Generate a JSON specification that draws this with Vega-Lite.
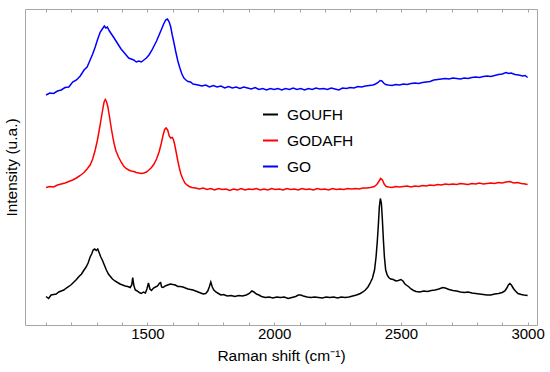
{
 "$schema": "https://vega.github.io/schema/vega-lite/v6.json",
 "width": 512,
 "height": 316,
 "autosize": {"type": "none"},
 "padding": {"left": 25, "top": 9, "right": 13, "bottom": 47},
 "background": "white",
 "config": {"view": {"stroke": "#a6a6a6", "strokeWidth": 1}, "font": "Liberation Sans"},
 "datasets": {
  "spec": [
{"s":"GO","x":1100,"y":230},{"s":"GO","x":1115,"y":232},{"s":"GO","x":1130,"y":231.5},{"s":"GO","x":1145,"y":234},{"s":"GO","x":1160,"y":235},{"s":"GO","x":1175,"y":237.5},{"s":"GO","x":1190,"y":238},{"s":"GO","x":1205,"y":243},{"s":"GO","x":1220,"y":245},{"s":"GO","x":1235,"y":249},{"s":"GO","x":1250,"y":255},{"s":"GO","x":1262,"y":258},{"s":"GO","x":1274,"y":265},{"s":"GO","x":1284,"y":271},{"s":"GO","x":1294,"y":278},{"s":"GO","x":1304,"y":286},{"s":"GO","x":1314,"y":293},{"s":"GO","x":1322,"y":296},{"s":"GO","x":1330,"y":299},{"s":"GO","x":1336,"y":297},{"s":"GO","x":1342,"y":298},{"s":"GO","x":1350,"y":294},{"s":"GO","x":1358,"y":291},{"s":"GO","x":1366,"y":288},{"s":"GO","x":1376,"y":284},{"s":"GO","x":1386,"y":280},{"s":"GO","x":1396,"y":276},{"s":"GO","x":1406,"y":273},{"s":"GO","x":1416,"y":270},{"s":"GO","x":1426,"y":267},{"s":"GO","x":1436,"y":266},{"s":"GO","x":1446,"y":265},{"s":"GO","x":1456,"y":263},{"s":"GO","x":1466,"y":264},{"s":"GO","x":1476,"y":263},{"s":"GO","x":1486,"y":265},{"s":"GO","x":1496,"y":267},{"s":"GO","x":1506,"y":270},{"s":"GO","x":1516,"y":274},{"s":"GO","x":1526,"y":279},{"s":"GO","x":1536,"y":284},{"s":"GO","x":1546,"y":290},{"s":"GO","x":1556,"y":296},{"s":"GO","x":1564,"y":301},{"s":"GO","x":1572,"y":305},{"s":"GO","x":1579,"y":306},{"s":"GO","x":1586,"y":303},{"s":"GO","x":1592,"y":298},{"s":"GO","x":1598,"y":290},{"s":"GO","x":1604,"y":283},{"s":"GO","x":1612,"y":273},{"s":"GO","x":1620,"y":264},{"s":"GO","x":1628,"y":257},{"s":"GO","x":1636,"y":251},{"s":"GO","x":1644,"y":247},{"s":"GO","x":1652,"y":245},{"s":"GO","x":1660,"y":243.5},{"s":"GO","x":1670,"y":243},{"s":"GO","x":1680,"y":241},{"s":"GO","x":1690,"y":240.5},{"s":"GO","x":1700,"y":240},{"s":"GO","x":1715,"y":239},{"s":"GO","x":1730,"y":240},{"s":"GO","x":1745,"y":238},{"s":"GO","x":1760,"y":239.5},{"s":"GO","x":1775,"y":238},{"s":"GO","x":1790,"y":239},{"s":"GO","x":1805,"y":237},{"s":"GO","x":1820,"y":238.5},{"s":"GO","x":1835,"y":237},{"s":"GO","x":1850,"y":238},{"s":"GO","x":1865,"y":236.5},{"s":"GO","x":1880,"y":238},{"s":"GO","x":1895,"y":237},{"s":"GO","x":1910,"y":236},{"s":"GO","x":1925,"y":237.5},{"s":"GO","x":1940,"y":235.5},{"s":"GO","x":1955,"y":236.5},{"s":"GO","x":1970,"y":235},{"s":"GO","x":1985,"y":236.5},{"s":"GO","x":2000,"y":235.5},{"s":"GO","x":2015,"y":236.5},{"s":"GO","x":2030,"y":235},{"s":"GO","x":2045,"y":236.5},{"s":"GO","x":2060,"y":235.5},{"s":"GO","x":2075,"y":237},{"s":"GO","x":2090,"y":235.5},{"s":"GO","x":2105,"y":236.5},{"s":"GO","x":2120,"y":235},{"s":"GO","x":2135,"y":236.5},{"s":"GO","x":2150,"y":235.5},{"s":"GO","x":2165,"y":237},{"s":"GO","x":2180,"y":236},{"s":"GO","x":2195,"y":236.5},{"s":"GO","x":2210,"y":235.5},{"s":"GO","x":2225,"y":237},{"s":"GO","x":2240,"y":236},{"s":"GO","x":2255,"y":235},{"s":"GO","x":2270,"y":237},{"s":"GO","x":2285,"y":236.5},{"s":"GO","x":2300,"y":237.5},{"s":"GO","x":2315,"y":237},{"s":"GO","x":2330,"y":238.5},{"s":"GO","x":2345,"y":238},{"s":"GO","x":2360,"y":239},{"s":"GO","x":2375,"y":239.5},{"s":"GO","x":2390,"y":240},{"s":"GO","x":2400,"y":241},{"s":"GO","x":2410,"y":242.5},{"s":"GO","x":2418,"y":244.5},{"s":"GO","x":2425,"y":244},{"s":"GO","x":2432,"y":242},{"s":"GO","x":2440,"y":240.5},{"s":"GO","x":2450,"y":240},{"s":"GO","x":2465,"y":239.5},{"s":"GO","x":2480,"y":240.5},{"s":"GO","x":2495,"y":240},{"s":"GO","x":2510,"y":241},{"s":"GO","x":2525,"y":240.5},{"s":"GO","x":2540,"y":241.5},{"s":"GO","x":2555,"y":242},{"s":"GO","x":2570,"y":241.5},{"s":"GO","x":2585,"y":242.5},{"s":"GO","x":2600,"y":243},{"s":"GO","x":2615,"y":243.5},{"s":"GO","x":2630,"y":245},{"s":"GO","x":2645,"y":245.5},{"s":"GO","x":2660,"y":246},{"s":"GO","x":2675,"y":246.5},{"s":"GO","x":2690,"y":246},{"s":"GO","x":2705,"y":247},{"s":"GO","x":2720,"y":246.5},{"s":"GO","x":2735,"y":246},{"s":"GO","x":2750,"y":247},{"s":"GO","x":2765,"y":246.5},{"s":"GO","x":2780,"y":247.5},{"s":"GO","x":2795,"y":248},{"s":"GO","x":2810,"y":247.5},{"s":"GO","x":2825,"y":248.5},{"s":"GO","x":2840,"y":249},{"s":"GO","x":2855,"y":248.5},{"s":"GO","x":2870,"y":249.5},{"s":"GO","x":2885,"y":250.5},{"s":"GO","x":2900,"y":251},{"s":"GO","x":2915,"y":252.5},{"s":"GO","x":2925,"y":251.5},{"s":"GO","x":2935,"y":252},{"s":"GO","x":2950,"y":250.5},{"s":"GO","x":2965,"y":250},{"s":"GO","x":2980,"y":249},{"s":"GO","x":2990,"y":249.5},{"s":"GO","x":3000,"y":247.5},
{"s":"GODAFH","x":1100,"y":137.5},{"s":"GODAFH","x":1115,"y":138.5},{"s":"GODAFH","x":1130,"y":138},{"s":"GODAFH","x":1145,"y":140},{"s":"GODAFH","x":1160,"y":141},{"s":"GODAFH","x":1175,"y":142},{"s":"GODAFH","x":1190,"y":143.5},{"s":"GODAFH","x":1205,"y":145},{"s":"GODAFH","x":1220,"y":147},{"s":"GODAFH","x":1235,"y":149.5},{"s":"GODAFH","x":1250,"y":152.5},{"s":"GODAFH","x":1262,"y":156},{"s":"GODAFH","x":1274,"y":160},{"s":"GODAFH","x":1284,"y":166},{"s":"GODAFH","x":1294,"y":175},{"s":"GODAFH","x":1302,"y":184},{"s":"GODAFH","x":1310,"y":195},{"s":"GODAFH","x":1318,"y":207},{"s":"GODAFH","x":1324,"y":216},{"s":"GODAFH","x":1329,"y":223},{"s":"GODAFH","x":1334,"y":225.5},{"s":"GODAFH","x":1339,"y":223},{"s":"GODAFH","x":1344,"y":218},{"s":"GODAFH","x":1350,"y":209},{"s":"GODAFH","x":1356,"y":199},{"s":"GODAFH","x":1362,"y":190},{"s":"GODAFH","x":1368,"y":182},{"s":"GODAFH","x":1376,"y":174},{"s":"GODAFH","x":1386,"y":168},{"s":"GODAFH","x":1396,"y":163},{"s":"GODAFH","x":1406,"y":159},{"s":"GODAFH","x":1416,"y":156.5},{"s":"GODAFH","x":1426,"y":155},{"s":"GODAFH","x":1436,"y":154},{"s":"GODAFH","x":1446,"y":153.5},{"s":"GODAFH","x":1456,"y":152.5},{"s":"GODAFH","x":1466,"y":152},{"s":"GODAFH","x":1476,"y":151.5},{"s":"GODAFH","x":1486,"y":152},{"s":"GODAFH","x":1496,"y":153},{"s":"GODAFH","x":1506,"y":155},{"s":"GODAFH","x":1516,"y":157.5},{"s":"GODAFH","x":1526,"y":161},{"s":"GODAFH","x":1536,"y":166},{"s":"GODAFH","x":1546,"y":173},{"s":"GODAFH","x":1554,"y":181},{"s":"GODAFH","x":1562,"y":190},{"s":"GODAFH","x":1568,"y":195.5},{"s":"GODAFH","x":1574,"y":197},{"s":"GODAFH","x":1580,"y":195},{"s":"GODAFH","x":1586,"y":189},{"s":"GODAFH","x":1592,"y":187},{"s":"GODAFH","x":1598,"y":187.5},{"s":"GODAFH","x":1603,"y":185},{"s":"GODAFH","x":1608,"y":180},{"s":"GODAFH","x":1614,"y":172},{"s":"GODAFH","x":1620,"y":164},{"s":"GODAFH","x":1626,"y":157},{"s":"GODAFH","x":1632,"y":151},{"s":"GODAFH","x":1640,"y":146},{"s":"GODAFH","x":1648,"y":142},{"s":"GODAFH","x":1656,"y":140},{"s":"GODAFH","x":1665,"y":138.5},{"s":"GODAFH","x":1675,"y":137.5},{"s":"GODAFH","x":1690,"y":137},{"s":"GODAFH","x":1705,"y":136},{"s":"GODAFH","x":1720,"y":137},{"s":"GODAFH","x":1735,"y":135.5},{"s":"GODAFH","x":1750,"y":136.5},{"s":"GODAFH","x":1765,"y":135},{"s":"GODAFH","x":1780,"y":136.5},{"s":"GODAFH","x":1795,"y":135.5},{"s":"GODAFH","x":1810,"y":136},{"s":"GODAFH","x":1825,"y":134.5},{"s":"GODAFH","x":1840,"y":136},{"s":"GODAFH","x":1855,"y":135},{"s":"GODAFH","x":1870,"y":136.5},{"s":"GODAFH","x":1885,"y":135},{"s":"GODAFH","x":1900,"y":136},{"s":"GODAFH","x":1915,"y":135.5},{"s":"GODAFH","x":1930,"y":136.5},{"s":"GODAFH","x":1945,"y":135},{"s":"GODAFH","x":1960,"y":136},{"s":"GODAFH","x":1975,"y":135},{"s":"GODAFH","x":1990,"y":136.5},{"s":"GODAFH","x":2005,"y":135.5},{"s":"GODAFH","x":2020,"y":136},{"s":"GODAFH","x":2035,"y":135},{"s":"GODAFH","x":2050,"y":136.5},{"s":"GODAFH","x":2065,"y":135.5},{"s":"GODAFH","x":2080,"y":136},{"s":"GODAFH","x":2095,"y":135},{"s":"GODAFH","x":2110,"y":136.5},{"s":"GODAFH","x":2125,"y":135.5},{"s":"GODAFH","x":2140,"y":136},{"s":"GODAFH","x":2155,"y":135},{"s":"GODAFH","x":2170,"y":136.5},{"s":"GODAFH","x":2185,"y":135.5},{"s":"GODAFH","x":2200,"y":136},{"s":"GODAFH","x":2215,"y":135},{"s":"GODAFH","x":2230,"y":136.5},{"s":"GODAFH","x":2245,"y":135.5},{"s":"GODAFH","x":2260,"y":136},{"s":"GODAFH","x":2275,"y":135.5},{"s":"GODAFH","x":2290,"y":136.5},{"s":"GODAFH","x":2305,"y":136},{"s":"GODAFH","x":2320,"y":136.5},{"s":"GODAFH","x":2335,"y":136},{"s":"GODAFH","x":2350,"y":137},{"s":"GODAFH","x":2365,"y":137},{"s":"GODAFH","x":2380,"y":137.5},{"s":"GODAFH","x":2395,"y":138.5},{"s":"GODAFH","x":2405,"y":140.5},{"s":"GODAFH","x":2413,"y":143.5},{"s":"GODAFH","x":2420,"y":146.5},{"s":"GODAFH","x":2427,"y":145},{"s":"GODAFH","x":2434,"y":141},{"s":"GODAFH","x":2442,"y":138.5},{"s":"GODAFH","x":2452,"y":138},{"s":"GODAFH","x":2465,"y":137.5},{"s":"GODAFH","x":2480,"y":138.5},{"s":"GODAFH","x":2495,"y":138},{"s":"GODAFH","x":2510,"y":138.5},{"s":"GODAFH","x":2525,"y":139},{"s":"GODAFH","x":2540,"y":138},{"s":"GODAFH","x":2555,"y":139},{"s":"GODAFH","x":2570,"y":138.5},{"s":"GODAFH","x":2585,"y":139.5},{"s":"GODAFH","x":2600,"y":139},{"s":"GODAFH","x":2615,"y":140},{"s":"GODAFH","x":2630,"y":139.5},{"s":"GODAFH","x":2645,"y":140.5},{"s":"GODAFH","x":2660,"y":140},{"s":"GODAFH","x":2675,"y":141},{"s":"GODAFH","x":2690,"y":140.5},{"s":"GODAFH","x":2705,"y":141},{"s":"GODAFH","x":2720,"y":140.5},{"s":"GODAFH","x":2735,"y":141.5},{"s":"GODAFH","x":2750,"y":141},{"s":"GODAFH","x":2765,"y":140.5},{"s":"GODAFH","x":2780,"y":141.5},{"s":"GODAFH","x":2795,"y":141},{"s":"GODAFH","x":2810,"y":142},{"s":"GODAFH","x":2825,"y":141},{"s":"GODAFH","x":2840,"y":141.5},{"s":"GODAFH","x":2855,"y":142},{"s":"GODAFH","x":2870,"y":141.5},{"s":"GODAFH","x":2885,"y":142.5},{"s":"GODAFH","x":2900,"y":142},{"s":"GODAFH","x":2915,"y":143},{"s":"GODAFH","x":2930,"y":143.5},{"s":"GODAFH","x":2945,"y":142},{"s":"GODAFH","x":2960,"y":142.5},{"s":"GODAFH","x":2975,"y":141.5},{"s":"GODAFH","x":2990,"y":141},{"s":"GODAFH","x":3000,"y":140.5},
{"s":"GOUFH","x":1100,"y":28.5},{"s":"GOUFH","x":1110,"y":26.5},{"s":"GOUFH","x":1120,"y":30},{"s":"GOUFH","x":1130,"y":30.5},{"s":"GOUFH","x":1140,"y":31},{"s":"GOUFH","x":1150,"y":33},{"s":"GOUFH","x":1160,"y":34},{"s":"GOUFH","x":1170,"y":35},{"s":"GOUFH","x":1180,"y":37},{"s":"GOUFH","x":1190,"y":38.5},{"s":"GOUFH","x":1200,"y":40.5},{"s":"GOUFH","x":1210,"y":43},{"s":"GOUFH","x":1220,"y":45.5},{"s":"GOUFH","x":1230,"y":48.5},{"s":"GOUFH","x":1240,"y":51},{"s":"GOUFH","x":1250,"y":55},{"s":"GOUFH","x":1258,"y":58},{"s":"GOUFH","x":1266,"y":62},{"s":"GOUFH","x":1274,"y":68},{"s":"GOUFH","x":1280,"y":71},{"s":"GOUFH","x":1286,"y":75},{"s":"GOUFH","x":1292,"y":76},{"s":"GOUFH","x":1298,"y":74.5},{"s":"GOUFH","x":1304,"y":76},{"s":"GOUFH","x":1310,"y":72},{"s":"GOUFH","x":1316,"y":68},{"s":"GOUFH","x":1322,"y":65},{"s":"GOUFH","x":1330,"y":60},{"s":"GOUFH","x":1338,"y":55},{"s":"GOUFH","x":1346,"y":51},{"s":"GOUFH","x":1354,"y":48.5},{"s":"GOUFH","x":1362,"y":46},{"s":"GOUFH","x":1372,"y":44},{"s":"GOUFH","x":1382,"y":42.5},{"s":"GOUFH","x":1392,"y":41},{"s":"GOUFH","x":1402,"y":40},{"s":"GOUFH","x":1412,"y":39},{"s":"GOUFH","x":1422,"y":38.5},{"s":"GOUFH","x":1432,"y":37.5},{"s":"GOUFH","x":1438,"y":40},{"s":"GOUFH","x":1442,"y":47.5},{"s":"GOUFH","x":1446,"y":40},{"s":"GOUFH","x":1452,"y":35},{"s":"GOUFH","x":1460,"y":34},{"s":"GOUFH","x":1468,"y":32.5},{"s":"GOUFH","x":1476,"y":31.5},{"s":"GOUFH","x":1484,"y":33},{"s":"GOUFH","x":1492,"y":32},{"s":"GOUFH","x":1498,"y":36},{"s":"GOUFH","x":1504,"y":42},{"s":"GOUFH","x":1510,"y":36},{"s":"GOUFH","x":1516,"y":34.5},{"s":"GOUFH","x":1524,"y":37},{"s":"GOUFH","x":1532,"y":38},{"s":"GOUFH","x":1540,"y":39},{"s":"GOUFH","x":1548,"y":42},{"s":"GOUFH","x":1552,"y":42.5},{"s":"GOUFH","x":1556,"y":38},{"s":"GOUFH","x":1562,"y":37.5},{"s":"GOUFH","x":1570,"y":39},{"s":"GOUFH","x":1580,"y":40},{"s":"GOUFH","x":1590,"y":41},{"s":"GOUFH","x":1600,"y":40.5},{"s":"GOUFH","x":1610,"y":40},{"s":"GOUFH","x":1620,"y":38.5},{"s":"GOUFH","x":1630,"y":38.5},{"s":"GOUFH","x":1640,"y":38},{"s":"GOUFH","x":1650,"y":37},{"s":"GOUFH","x":1660,"y":36},{"s":"GOUFH","x":1670,"y":35.5},{"s":"GOUFH","x":1680,"y":35},{"s":"GOUFH","x":1690,"y":34},{"s":"GOUFH","x":1700,"y":33},{"s":"GOUFH","x":1710,"y":32},{"s":"GOUFH","x":1720,"y":31},{"s":"GOUFH","x":1730,"y":31.5},{"s":"GOUFH","x":1738,"y":34},{"s":"GOUFH","x":1744,"y":38},{"s":"GOUFH","x":1750,"y":43},{"s":"GOUFH","x":1756,"y":38},{"s":"GOUFH","x":1762,"y":35},{"s":"GOUFH","x":1770,"y":33},{"s":"GOUFH","x":1780,"y":31.5},{"s":"GOUFH","x":1790,"y":30},{"s":"GOUFH","x":1800,"y":30.5},{"s":"GOUFH","x":1815,"y":29},{"s":"GOUFH","x":1830,"y":29.5},{"s":"GOUFH","x":1845,"y":28.5},{"s":"GOUFH","x":1860,"y":29.5},{"s":"GOUFH","x":1875,"y":29},{"s":"GOUFH","x":1890,"y":30},{"s":"GOUFH","x":1902,"y":31.5},{"s":"GOUFH","x":1912,"y":34},{"s":"GOUFH","x":1920,"y":33},{"s":"GOUFH","x":1930,"y":31},{"s":"GOUFH","x":1940,"y":30},{"s":"GOUFH","x":1950,"y":28.5},{"s":"GOUFH","x":1965,"y":27.5},{"s":"GOUFH","x":1980,"y":28},{"s":"GOUFH","x":1995,"y":27},{"s":"GOUFH","x":2010,"y":28},{"s":"GOUFH","x":2025,"y":27.5},{"s":"GOUFH","x":2040,"y":28},{"s":"GOUFH","x":2055,"y":26.5},{"s":"GOUFH","x":2070,"y":27.5},{"s":"GOUFH","x":2085,"y":28.5},{"s":"GOUFH","x":2095,"y":30},{"s":"GOUFH","x":2105,"y":30},{"s":"GOUFH","x":2115,"y":29},{"s":"GOUFH","x":2130,"y":28},{"s":"GOUFH","x":2145,"y":27.5},{"s":"GOUFH","x":2160,"y":28},{"s":"GOUFH","x":2175,"y":27.5},{"s":"GOUFH","x":2190,"y":27},{"s":"GOUFH","x":2205,"y":28},{"s":"GOUFH","x":2220,"y":27.5},{"s":"GOUFH","x":2235,"y":28},{"s":"GOUFH","x":2250,"y":27},{"s":"GOUFH","x":2265,"y":28},{"s":"GOUFH","x":2280,"y":27.5},{"s":"GOUFH","x":2295,"y":28},{"s":"GOUFH","x":2310,"y":29},{"s":"GOUFH","x":2325,"y":30},{"s":"GOUFH","x":2340,"y":31.5},{"s":"GOUFH","x":2350,"y":33},{"s":"GOUFH","x":2360,"y":35},{"s":"GOUFH","x":2370,"y":38},{"s":"GOUFH","x":2378,"y":41.5},{"s":"GOUFH","x":2388,"y":47},{"s":"GOUFH","x":2396,"y":55},{"s":"GOUFH","x":2402,"y":68},{"s":"GOUFH","x":2407,"y":84},{"s":"GOUFH","x":2411,"y":100},{"s":"GOUFH","x":2415,"y":118},{"s":"GOUFH","x":2419,"y":126.5},{"s":"GOUFH","x":2423,"y":122},{"s":"GOUFH","x":2427,"y":105},{"s":"GOUFH","x":2431,"y":85},{"s":"GOUFH","x":2435,"y":68},{"s":"GOUFH","x":2440,"y":55},{"s":"GOUFH","x":2446,"y":50},{"s":"GOUFH","x":2452,"y":47.5},{"s":"GOUFH","x":2460,"y":46},{"s":"GOUFH","x":2470,"y":45.5},{"s":"GOUFH","x":2480,"y":44},{"s":"GOUFH","x":2490,"y":44.5},{"s":"GOUFH","x":2500,"y":45.5},{"s":"GOUFH","x":2508,"y":44},{"s":"GOUFH","x":2516,"y":41},{"s":"GOUFH","x":2524,"y":39.5},{"s":"GOUFH","x":2532,"y":38},{"s":"GOUFH","x":2540,"y":36},{"s":"GOUFH","x":2550,"y":34.5},{"s":"GOUFH","x":2560,"y":33.5},{"s":"GOUFH","x":2575,"y":33},{"s":"GOUFH","x":2590,"y":34},{"s":"GOUFH","x":2605,"y":33.5},{"s":"GOUFH","x":2620,"y":34.5},{"s":"GOUFH","x":2635,"y":35},{"s":"GOUFH","x":2650,"y":36},{"s":"GOUFH","x":2665,"y":37.5},{"s":"GOUFH","x":2675,"y":37},{"s":"GOUFH","x":2690,"y":35.5},{"s":"GOUFH","x":2705,"y":34.5},{"s":"GOUFH","x":2720,"y":34},{"s":"GOUFH","x":2735,"y":33},{"s":"GOUFH","x":2750,"y":32.5},{"s":"GOUFH","x":2765,"y":33},{"s":"GOUFH","x":2780,"y":32},{"s":"GOUFH","x":2795,"y":31.5},{"s":"GOUFH","x":2810,"y":31},{"s":"GOUFH","x":2825,"y":30.5},{"s":"GOUFH","x":2840,"y":30},{"s":"GOUFH","x":2855,"y":30},{"s":"GOUFH","x":2870,"y":31},{"s":"GOUFH","x":2885,"y":31.5},{"s":"GOUFH","x":2900,"y":32.5},{"s":"GOUFH","x":2910,"y":34},{"s":"GOUFH","x":2918,"y":37},{"s":"GOUFH","x":2924,"y":40},{"s":"GOUFH","x":2930,"y":41.5},{"s":"GOUFH","x":2936,"y":40},{"s":"GOUFH","x":2944,"y":36.5},{"s":"GOUFH","x":2952,"y":34},{"s":"GOUFH","x":2962,"y":31.5},{"s":"GOUFH","x":2975,"y":30.5},{"s":"GOUFH","x":2985,"y":30},{"s":"GOUFH","x":3000,"y":29.5}
  ]
 },
 "data": {"name": "spec"},
 "resolve": {"axis": {"x": "independent"}},
 "layer": [
  {
   "mark": {"type": "line", "strokeWidth": 1.5},
   "encoding": {
    "x": {"field": "x", "type": "quantitative",
     "scale": {"domain": [1017, 3037], "nice": false, "zero": false},
     "axis": {"title": "Raman shift (cm⁻¹)",
      "values": [1100,1200,1300,1400,1500,1600,1700,1800,1900,2000,2100,2200,2300,2400,2500,2600,2700,2800,2900,3000],
      "labelExpr": "datum.value % 500 === 0 ? datum.label : ''",
      "format": "d", "labelOverlap": false, "labelFlush": false,
      "tickSize": -3, "tickColor": "#a6a6a6", "domain": false, "grid": false,
      "labelFontSize": 15, "labelColor": "black", "labelPadding": 4,
      "titleFontSize": 15.5, "titleFontWeight": "normal", "titleColor": "black", "titlePadding": 7}},
    "y": {"field": "y", "type": "quantitative",
     "scale": {"domain": [0, 316], "nice": false, "zero": false},
     "axis": {"title": "Intensity (u.a.)", "labels": false, "ticks": false, "domain": false, "grid": false,
      "titleFontSize": 15.5, "titleFontWeight": "normal", "titleColor": "black",
      "titleX": -9, "titleY": 158, "titleAngle": -90, "titleAlign": "center", "titleBaseline": "alphabetic"}},
    "color": {"field": "s", "type": "nominal",
     "scale": {"domain": ["GOUFH", "GODAFH", "GO"], "range": ["#000000", "#ff0000", "#0000ff"]},
     "legend": {"orient": "none", "legendX": 237, "legendY": 97, "title": null,
      "symbolType": "stroke", "symbolSize": 225, "symbolStrokeWidth": 2,
      "labelFontSize": 15.5, "labelColor": "black", "labelOffset": 8, "rowPadding": 9, "padding": 0}}
   }
  },
  {
   "mark": {"type": "line", "opacity": 0},
   "encoding": {
    "x": {"field": "x", "type": "quantitative",
     "axis": {"orient": "top", "title": null, "labels": false,
      "values": [1100,1200,1300,1400,1500,1600,1700,1800,1900,2000,2100,2200,2300,2400,2500,2600,2700,2800,2900,3000],
      "tickSize": -3, "tickColor": "#a6a6a6", "domain": false, "grid": false}},
    "y": {"field": "y", "type": "quantitative"},
    "detail": {"field": "s"}
   }
  }
 ]
}
